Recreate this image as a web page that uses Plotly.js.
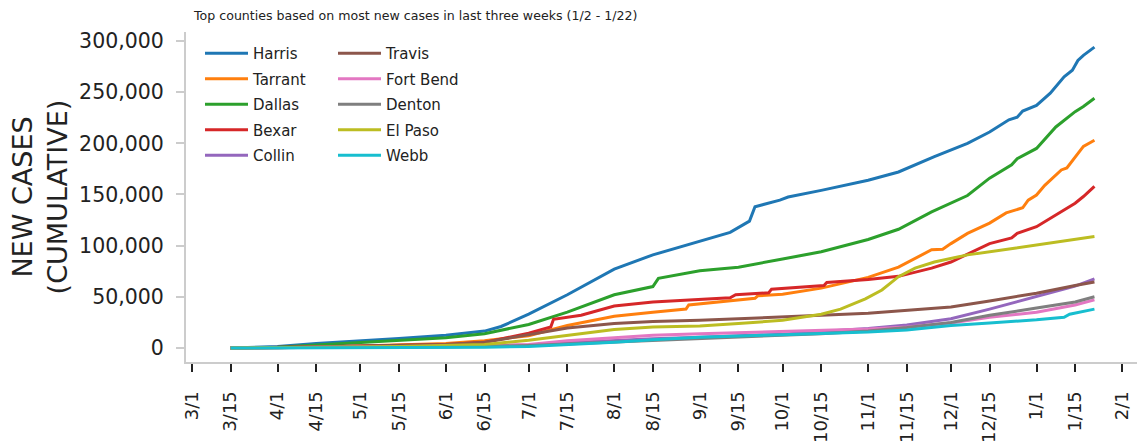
<!DOCTYPE html>
<html>
<head>
<meta charset="utf-8">
<script src="https://cdn.plot.ly/plotly-3.0.1.min.js"></script>
<style>html,body{margin:0;padding:0;background:#fff;}#chart{width:1137px;height:443px;}</style>
</head>
<body>
<div id="chart"></div>
<script>
// ---- data (cumulative cases) ----
const harrisDates = ['2020-03-15','2020-04-01','2020-04-15','2020-05-01','2020-05-15','2020-06-01','2020-06-15','2020-06-21','2020-07-01','2020-07-15','2020-08-01','2020-08-15','2020-08-31','2020-09-12','2020-09-19','2020-09-21','2020-09-30','2020-10-03','2020-10-15','2020-11-01','2020-11-12','2020-11-25','2020-12-07','2020-12-15','2020-12-22','2020-12-25','2020-12-27','2021-01-01','2021-01-06','2021-01-11','2021-01-14','2021-01-16','2021-01-18','2021-01-22'];
const harrisCases = [0,1500,4500,6800,9200,12500,16500,21000,33000,52000,77000,91000,104000,113000,124000,138000,144500,147500,154000,164000,172000,187000,200000,211000,223000,225500,231500,237000,249000,265000,271500,281000,286000,294000];

const tarrantDates = ['2020-03-15','2020-04-01','2020-04-15','2020-05-01','2020-05-15','2020-06-01','2020-06-15','2020-07-01','2020-07-15','2020-08-01','2020-08-15','2020-08-27','2020-08-28','2020-09-15','2020-09-21','2020-09-22','2020-10-01','2020-10-15','2020-11-01','2020-11-12','2020-11-24','2020-11-28','2020-12-01','2020-12-07','2020-12-15','2020-12-21','2020-12-27','2020-12-29','2021-01-01','2021-01-04','2021-01-10','2021-01-12','2021-01-15','2021-01-18','2021-01-22'];
const tarrantCases = [0,300,1000,2000,3000,4500,7000,12000,22000,31000,35000,38000,42000,47000,48500,51000,52500,58500,69000,79000,96000,96500,102000,112000,122000,132000,137000,144500,149500,159000,174000,176000,187000,197000,203000];

const dallasDates = ['2020-03-15','2020-04-01','2020-04-15','2020-05-01','2020-05-15','2020-06-01','2020-06-15','2020-07-01','2020-07-15','2020-08-01','2020-08-15','2020-08-17','2020-09-01','2020-09-15','2020-10-01','2020-10-15','2020-11-01','2020-11-12','2020-11-24','2020-12-01','2020-12-07','2020-12-15','2020-12-23','2020-12-25','2021-01-01','2021-01-08','2021-01-15','2021-01-18','2021-01-22'];
const dallasCases = [0,800,3000,5200,7500,10000,14000,23000,35000,52000,60000,68000,75500,79000,87000,94000,106000,116000,133000,142000,149000,166000,179000,185000,195000,216000,231000,236000,244000];

const bexarDates = ['2020-03-15','2020-04-01','2020-04-15','2020-05-01','2020-05-15','2020-06-01','2020-06-15','2020-07-01','2020-07-09','2020-07-10','2020-07-20','2020-07-25','2020-08-01','2020-08-15','2020-08-31','2020-09-12','2020-09-14','2020-09-26','2020-09-27','2020-10-16','2020-10-17','2020-11-01','2020-11-12','2020-11-24','2020-12-01','2020-12-15','2020-12-23','2020-12-25','2021-01-01','2021-01-07','2021-01-15','2021-01-18','2021-01-22'];
const bexarCases = [0,300,1200,2000,2800,3500,5500,14500,20500,28000,32000,36000,41000,45000,47000,49000,52000,54000,57500,61000,64000,67000,70000,78000,84000,102000,107500,112000,118500,128000,141500,148000,158000];

const elPasoDates = ['2020-03-15','2020-04-01','2020-04-15','2020-05-01','2020-05-15','2020-06-01','2020-06-15','2020-07-01','2020-07-15','2020-08-01','2020-08-15','2020-09-01','2020-09-15','2020-10-01','2020-10-15','2020-10-22','2020-10-31','2020-11-06','2020-11-12','2020-11-18','2020-11-25','2020-12-07','2020-12-24','2021-01-06','2021-01-22'];
const elPasoCases = [0,200,700,1000,1500,2500,3500,7500,12500,18000,20500,21500,24000,27000,33000,38000,48000,56700,69700,78000,84000,91000,97500,102500,109000];

const commonDates = ['2020-03-15','2020-04-01','2020-05-01','2020-06-01','2020-06-15','2020-07-01','2020-07-15','2020-08-01','2020-08-15','2020-09-01','2020-10-01','2020-10-15','2020-11-01','2020-11-15','2020-12-01','2020-12-15','2021-01-01','2021-01-15','2021-01-22'];
const travisCases   = [0,300,2000,3500,5500,13000,19500,24000,26000,27000,30000,32000,34000,36500,40000,46000,53500,61000,64500];
const collinCases   = [0,200,700,1200,1800,3000,5000,7500,9000,10500,13500,16000,19000,22500,28500,38000,50000,60500,67500];
const dentonCases   = [0,200,600,1000,1500,2500,4000,6000,7500,9000,12000,14000,16500,20000,25000,32000,39000,45000,50000];
const fortBendCases = [0,300,800,1500,2000,3500,7000,10000,12500,14000,16000,17000,18500,20500,24500,30000,35000,42000,47000];

const webbDates = ['2020-03-15','2020-04-01','2020-05-01','2020-06-01','2020-06-15','2020-07-01','2020-07-15','2020-08-01','2020-08-15','2020-09-01','2020-10-01','2020-11-01','2020-11-15','2020-12-01','2020-12-15','2021-01-01','2021-01-11','2021-01-13','2021-01-22'];
const webbCases = [0,50,200,500,800,1500,3000,5500,8000,10500,13000,15500,17500,22000,24500,27500,30000,33000,38000];

const tickDates  = ['2020-03-01','2020-03-15','2020-04-01','2020-04-15','2020-05-01','2020-05-15','2020-06-01','2020-06-15','2020-07-01','2020-07-15','2020-08-01','2020-08-15','2020-09-01','2020-09-15','2020-10-01','2020-10-15','2020-11-01','2020-11-15','2020-12-01','2020-12-15','2021-01-01','2021-01-15','2021-02-01'];
const tickLabels = ['3/1','3/15','4/1','4/15','5/1','5/15','6/1','6/15','7/1','7/15','8/1','8/15','9/1','9/15','10/1','10/15','11/1','11/15','12/1','12/15','1/1','1/15','2/1'];
const yTickVals  = [0,50000,100000,150000,200000,250000,300000];

const series = [
  {name:'Harris',    x:harrisDates,  y:harrisCases,   color:'#1f77b4', legend:'legend'},
  {name:'Tarrant',   x:tarrantDates, y:tarrantCases,  color:'#ff7f0e', legend:'legend'},
  {name:'Dallas',    x:dallasDates,  y:dallasCases,   color:'#2ca02c', legend:'legend'},
  {name:'Bexar',     x:bexarDates,   y:bexarCases,    color:'#d62728', legend:'legend'},
  {name:'Collin',    x:commonDates,  y:collinCases,   color:'#9467bd', legend:'legend'},
  {name:'Travis',    x:commonDates,  y:travisCases,   color:'#8c564b', legend:'legend2'},
  {name:'Fort Bend', x:commonDates,  y:fortBendCases, color:'#e377c2', legend:'legend2'},
  {name:'Denton',    x:commonDates,  y:dentonCases,   color:'#7f7f7f', legend:'legend2'},
  {name:'El Paso',   x:elPasoDates,  y:elPasoCases,   color:'#bcbd22', legend:'legend2'},
  {name:'Webb',      x:webbDates,    y:webbCases,     color:'#17becf', legend:'legend2'}
];

const traces = series.map(s => ({
  type:'scatter', mode:'lines', name:s.name, x:s.x, y:s.y,
  legend:s.legend, legendgroup:s.name,
  line:{color:s.color, width:3}
}));

const FONT = 'DejaVu Sans, sans-serif';
const legendCommon = {
  font:{family:FONT, size:15, color:'#222'},
  bgcolor:'rgba(0,0,0,0)', borderwidth:0,
  xanchor:'left', yanchor:'top', tracegroupgap:3, itemwidth:43
};

const layout = {
  width:1137, height:443,
  margin:{l:186, r:0, t:32, b:81, pad:0},
  paper_bgcolor:'#fff', plot_bgcolor:'#fff',
  font:{family:FONT, color:'#222'},
  showlegend:true,
  title:{text:'Top counties based on most new cases in last three weeks (1/2 - 1/22)',
         font:{family:FONT, size:12.6, color:'#222'},
         xref:'container', x:194/1137, xanchor:'left',
         yref:'container', y:1-16/443, yanchor:'middle'},
  xaxis:{
    type:'date', range:['2020-02-27 20:00','2021-02-06 10:00'],
    tickmode:'array', tickvals:tickDates, ticktext:tickLabels,
    tickangle:-90, tickfont:{family:FONT, size:18, color:'#222'},
    ticks:'outside', ticklen:8, tickwidth:2, tickcolor:'#222',
    ticklabelstandoff:12,
    showline:true, linecolor:'#cccccc', linewidth:2,
    showgrid:false, zeroline:false
  },
  yaxis:{
    range:[-13700, 308800],
    tickmode:'array', tickvals:yTickVals, tickformat:',d',
    tickfont:{family:FONT, size:20.5, color:'#222'},
    ticks:'outside', ticklen:8, tickwidth:2, tickcolor:'#cccccc',
    ticklabelstandoff:8,
    showline:true, linecolor:'#cccccc', linewidth:2,
    showgrid:false, zeroline:false,
    title:{text:'NEW CASES<br>(CUMULATIVE)', font:{family:FONT, size:27, color:'#222'}, standoff:4}
  },
  legend:Object.assign({x:(200-186)/951, y:(362-37)/330}, legendCommon),
  legend2:Object.assign({x:(333-186)/951, y:(362-37)/330}, legendCommon)
};

Plotly.newPlot('chart', traces, layout, {displayModeBar:false, staticPlot:true});
</script>
</body>
</html>
